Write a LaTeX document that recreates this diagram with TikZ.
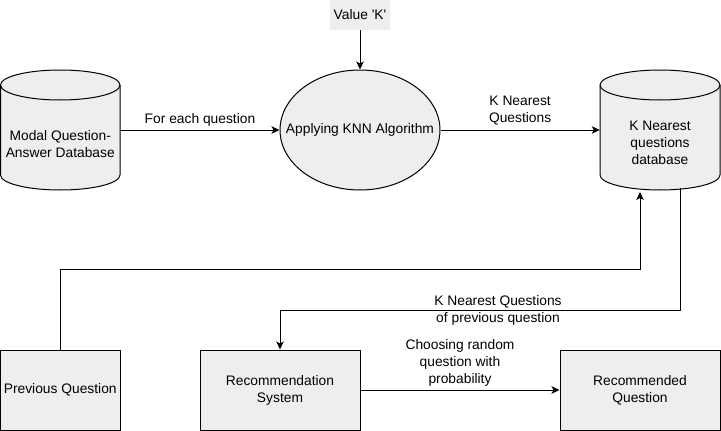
\documentclass[tikz,border=0pt]{standalone}
\usepackage{fontspec}
\setmainfont{Liberation Sans}[Ligatures=ResetAll]
\usetikzlibrary{arrows.meta,shapes.geometric}
\definecolor{fillc}{HTML}{EEEEEE}
\begin{document}
\begin{tikzpicture}[x=1pt,y=-1pt,
  every node/.style={font=\fontsize{13.8}{17}\selectfont, align=center, inner sep=2pt},
  box/.style={draw, fill=fillc, line width=1pt, minimum width=160pt, minimum height=80pt, inner sep=0pt},
  holder/.style={minimum width=120pt, minimum height=120pt, inner sep=0pt},
  arr/.style={line width=1pt, -{Stealth[length=8pt,width=7.5pt,inset=2pt]}},
  lbl/.style={fill=none, inner sep=1pt}]
\useasboundingbox (0,0) rectangle (721,431);

% left cylinder
\filldraw[fill=fillc, line width=1pt] (0.5,85) arc[start angle=180,end angle=360,x radius=59.75,y radius=15]
  -- (120,175) arc[start angle=0,end angle=180,x radius=59.75,y radius=15] -- cycle;
\draw[line width=1pt] (0.5,85) arc[start angle=180,end angle=0,x radius=59.75,y radius=15];
\node[holder] (mq) at (60.25,130) {};
\node at (60.25,144) {Modal Question-\\Answer Database};

% right cylinder
\filldraw[fill=fillc, line width=1pt] (600,85) arc[start angle=180,end angle=360,x radius=60,y radius=15]
  -- (720,175) arc[start angle=0,end angle=180,x radius=60,y radius=15] -- cycle;
\draw[line width=1pt] (600,85) arc[start angle=180,end angle=0,x radius=60,y radius=15];
\node[holder] (kdb) at (660,130) {};
\node at (660,143) {K Nearest\\questions\\database};

% ellipse
\node[ellipse, draw, fill=fillc, line width=1pt, minimum width=160pt, minimum height=120pt, inner sep=0pt] (knn) at (360,130) {};
\node at (360,130) {Applying KNN Algorithm};

% value K
\node[fill=fillc, minimum width=60pt, minimum height=30pt, inner sep=0pt] (vk) at (360,15) {Value \textquotesingle K\textquotesingle};

% boxes
\node[box, minimum width=119.5pt] (prev) at (60.25,390) {Previous Question};
\node[box] (rs) at (280,390) {Recommendation\\System};
\node[box] (rq) at (640,390) {Recommended\\Question};

\coordinate (kb1) at (640,192);
\coordinate (kb2) at (680,188);

% connectors
\draw[arr] (mq.east) -- (knn.west) node[midway, above=1pt] {For each question};
\draw[arr] (vk.south) -- (knn.north);
\draw[arr] (knn.east) -- (kdb.west) node[midway, above=2pt] {K Nearest\\Questions};
\draw[arr] (prev.north) -- ++(0,-80) -| (kb1);
\draw[arr] (kb2) -- ++(0,122) -| (rs.north);
\node[lbl] (l3) at (498,310) {K Nearest Questions\\of previous question};
\draw[arr] (rs.east) -- (rq.west);
\node[lbl] (l4) at (460,363) {Choosing random\\question with\\probability};
\end{tikzpicture}
\end{document}
